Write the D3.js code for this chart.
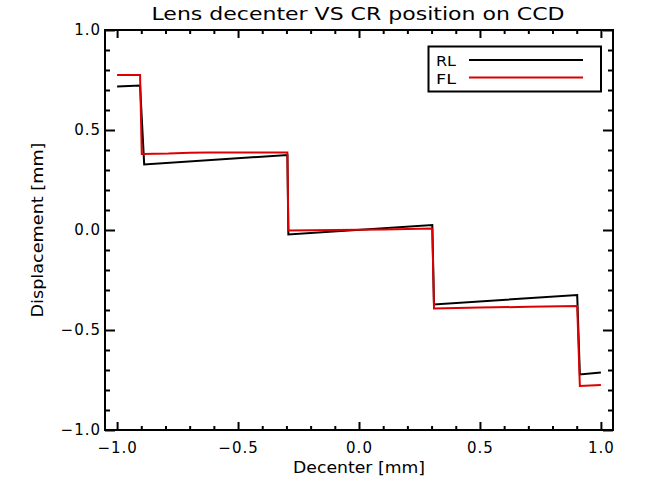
<!DOCTYPE html>
<html><head><meta charset="utf-8">
<script src="https://cdn.jsdelivr.net/npm/d3@7"></script>
<style>body{margin:0;background:#fff}svg{display:block}text{font-family:"DejaVu Sans",sans-serif;fill:#000}</style>
</head><body><svg id="c" width="645" height="491"></svg>
<script>
const titleText = "Lens decenter VS CR position on CCD";
const xTitle = "Decenter [mm]";
const yTitle = "Displacement [mm]";
const seriesNames = ["RL", "FL"];
const seriesColors = ["#000000", "#dd0000"];

const rlX = [-1.0, -0.905, -0.888, -0.296, -0.292, 0.303, 0.310, 0.902, 0.913, 1.0];
const rlY = [0.717, 0.722, 0.328, 0.375, -0.022, 0.025, -0.372, -0.325, -0.722, -0.713];

const flX = [-1.0, -0.905, -0.898, -0.788, -0.700, -0.623, -0.296, -0.292, -0.100, 0.100, 0.303, 0.310, 0.500, 0.700, 0.902, 0.913, 1.0];
const flY = [0.775, 0.775, 0.380, 0.382, 0.386, 0.388, 0.388, -0.003, 0.000, 0.003, 0.008, -0.392, -0.388, -0.384, -0.380, -0.780, -0.775];

const xMajor = [-1.0, -0.5, 0.0, 0.5, 1.0];
const yMajor = [-1.0, -0.5, 0.0, 0.5, 1.0];
const xMinor = d3.range(-10, 11).filter(i => i % 5 !== 0).map(i => i / 10);
const yMinor = d3.range(-10, 11).filter(i => i % 5 !== 0).map(i => i / 10);

const L = 105, R = 613, T = 30, B = 430;
const svg = d3.select("#c");
const x = d3.scaleLinear().domain([-1.05, 1.05]).range([L, R]);
const y = d3.scaleLinear().domain([-1, 1]).range([B, T]);
const fmt = d3.format(".1f");

function ax(g, a) { g.call(a); g.select(".domain").remove(); g.selectAll("line").attr("stroke", "#000").attr("stroke-width", 2); g.selectAll("text").attr("font-size", 15).attr("font-family", "DejaVu Sans").attr("letter-spacing", "1px").attr("fill", "#000"); }

// major ticks with labels
svg.append("g").attr("transform", `translate(0,${B})`).call(g => ax(g, d3.axisBottom(x).tickValues(xMajor).tickSize(-8).tickPadding(12).tickFormat(fmt)));
svg.append("g").attr("transform", `translate(${L},0)`).call(g => ax(g, d3.axisLeft(y).tickValues(yMajor).tickSize(-10).tickPadding(4).tickFormat(fmt)));
svg.append("g").attr("transform", `translate(0,${T})`).call(g => ax(g, d3.axisTop(x).tickValues(xMajor).tickSize(-8).tickFormat("")));
svg.append("g").attr("transform", `translate(${R},0)`).call(g => ax(g, d3.axisRight(y).tickValues(yMajor).tickSize(-10).tickFormat("")));
// minor ticks
svg.append("g").attr("transform", `translate(0,${B})`).call(g => ax(g, d3.axisBottom(x).tickValues(xMinor).tickSize(-4).tickFormat("")));
svg.append("g").attr("transform", `translate(0,${T})`).call(g => ax(g, d3.axisTop(x).tickValues(xMinor).tickSize(-4).tickFormat("")));
svg.append("g").attr("transform", `translate(${L},0)`).call(g => ax(g, d3.axisLeft(y).tickValues(yMinor).tickSize(-5).tickFormat("")));
svg.append("g").attr("transform", `translate(${R},0)`).call(g => ax(g, d3.axisRight(y).tickValues(yMinor).tickSize(-5).tickFormat("")));

// frame
svg.append("rect").attr("x", L).attr("y", T).attr("width", R - L).attr("height", B - T)
  .attr("fill", "none").attr("stroke", "#000").attr("stroke-width", 2);

// data
const line = d3.line().x(d => x(d[0])).y(d => y(d[1]));
const rl = rlX.map((v, i) => [v, rlY[i]]);
const fl = flX.map((v, i) => [v, flY[i]]);
[rl, fl].forEach((d, i) => {
  svg.append("path").datum(d).attr("d", line).attr("fill", "none")
    .attr("stroke", seriesColors[i]).attr("stroke-width", 2);
});

// titles
svg.append("text").attr("x", 358).attr("y", 20).attr("text-anchor", "middle").attr("font-size", 18)
  .attr("textLength", 413).attr("lengthAdjust", "spacingAndGlyphs").text(titleText);
svg.append("text").attr("x", 359).attr("y", 473).attr("text-anchor", "middle").attr("font-size", 15)
  .attr("textLength", 132).attr("lengthAdjust", "spacingAndGlyphs").text(xTitle);
svg.append("text").attr("transform", "translate(43,230) rotate(-90)").attr("text-anchor", "middle").attr("font-size", 15)
  .attr("textLength", 175).attr("lengthAdjust", "spacingAndGlyphs").text(yTitle);

// legend
svg.append("rect").attr("x", 428.5).attr("y", 46.5).attr("width", 172.5).attr("height", 45)
  .attr("fill", "#fff").attr("stroke", "#000").attr("stroke-width", 2);
const legY = [60, 77.5];
seriesNames.forEach((n, i) => {
  svg.append("text").attr("x", 436).attr("y", legY[i] + 6).attr("font-size", 14)
    .attr("textLength", 20).attr("lengthAdjust", "spacingAndGlyphs").text(n);
  svg.append("line").attr("x1", 469).attr("x2", 583).attr("y1", legY[i]).attr("y2", legY[i])
    .attr("stroke", seriesColors[i]).attr("stroke-width", 2);
});
</script></body></html>
